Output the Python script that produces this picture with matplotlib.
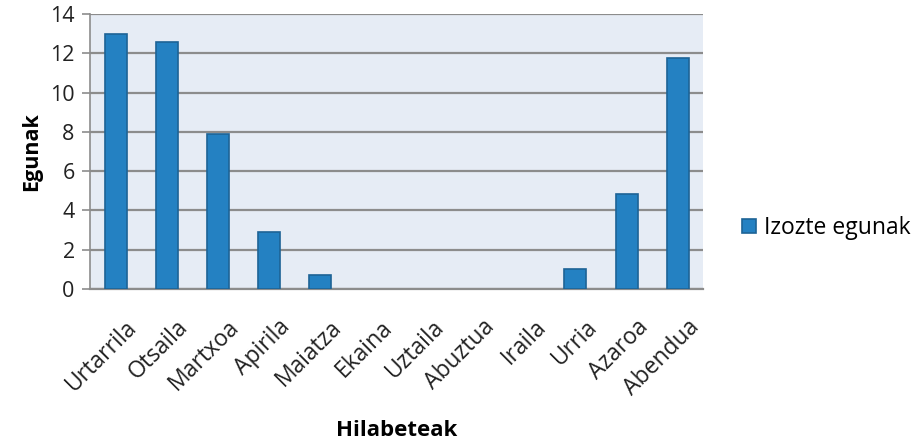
import matplotlib.pyplot as plt
from matplotlib.transforms import ScaledTranslation

hilabeteak = ["Urtarrila", "Otsaila", "Martxoa", "Apirila", "Maiatza", "Ekaina",
              "Uztaila", "Abuztua", "Iraila", "Urria", "Azaroa", "Abendua"]
izozte_egunak = [13.0, 12.6, 7.9, 2.9, 0.7, 0, 0, 0, 0, 1.0, 4.85, 11.75]

plt.rcParams['font.family'] = ['Open Sans', 'DejaVu Sans']

fig = plt.figure(figsize=(9.24, 4.41), dpi=100)
ax = fig.add_axes([0.0974, 0.3447, 0.6636, 0.6235])
ax.set_facecolor('#e6ecf5')

x = range(len(hilabeteak))
# no outline for empty months, so nothing shows on the baseline
edge_w = [1.2 if v > 0 else 0 for v in izozte_egunak]
ax.bar(x, izozte_egunak, width=0.43, color='#2481c2', edgecolor='#1d6396',
       linewidth=edge_w, label='Izozte egunak', zorder=3)

ax.set_xlim(-0.5, len(hilabeteak) - 0.5)
ax.set_ylim(0, 14)
ax.set_yticks(range(0, 15, 2))
ax.yaxis.grid(True, color='#8c8c8c', linewidth=1.6, zorder=1)
ax.set_axisbelow(True)

for side in ['top', 'right']:
    ax.spines[side].set_visible(False)
ax.spines['left'].set_color('#8c8c8c')
ax.spines['bottom'].set_color('#8c8c8c')
ax.spines['left'].set_linewidth(1.2)
ax.spines['bottom'].set_linewidth(1.6)

ax.tick_params(axis='y', length=6, width=1.2, color='#8c8c8c', labelsize=15.5,
               labelcolor='#222222', pad=5)
ax.tick_params(axis='x', length=0, labelsize=16.5, labelcolor='#222222', pad=19)
ax.set_xticks(list(x))
ax.set_xticklabels(hilabeteak, rotation=45, ha='right', rotation_mode='anchor')

# nudge the slanted month names a little to the right
shift = ScaledTranslation(7 / 72, 0, fig.dpi_scale_trans)
for lbl in ax.get_xticklabels():
    lbl.set_transform(lbl.get_transform() + shift)

ax.set_ylabel('Egunak', fontsize=15.5, fontweight='bold', labelpad=6)
ax.set_xlabel('Hilabeteak', fontsize=16, fontweight='bold', labelpad=14)

ax.legend(loc='center left', bbox_to_anchor=(1.03, 0.222), frameon=False,
          fontsize=16.5, handlelength=0.6, handleheight=0.6, handletextpad=0.35)

fig.savefig('out.png', dpi=100, facecolor='white')
